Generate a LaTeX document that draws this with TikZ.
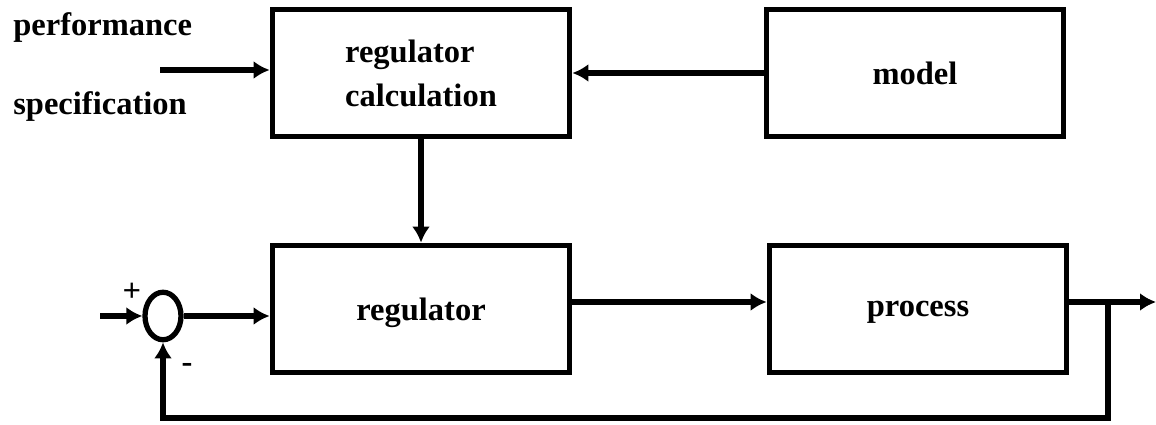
\documentclass[tikz,border=0pt]{standalone}
\usepackage{fontspec}
\setmainfont{Liberation Serif}
\usetikzlibrary{arrows.meta,calc,positioning,shapes.geometric}

\tikzset{
	blockbox/.style={draw,line width=3pt,minimum width=5.95cm,minimum height=2.55cm,font=\fontsize{18.5}{25}\selectfont\bfseries},
	sig/.style={-{Latex[length=3.2mm,width=3.6mm]},line width=3pt},
	lbl/.style={font=\fontsize{18.5}{21}\selectfont\bfseries,inner sep=0pt}
}

\begin{document}
\begin{tikzpicture}[x=0.02cm,y=-0.02cm]
		\useasboundingbox (0,0) rectangle (1156,425);
		\node[blockbox,align=left] (calc) at (421,73) {regulator\\calculation};
		\node[blockbox] (model) at (915,73) {model};
		\node[blockbox,text depth=-0.3cm] (reg) at (421,309) {regulator};
		\node[blockbox,text depth=-0.1cm] (proc) at (918,309) {process};
		\node[draw,ellipse,line width=3pt,minimum width=0.72cm,minimum height=0.95cm,inner sep=0pt] (sum) at (163,316) {};
		\node[lbl,anchor=west] (perf) at (13,28) {performance};
		\node[lbl,anchor=west] (spec) at (13,107) {specification};
		\node[lbl] (plus) at (132,292) {+};
		\node[lbl] (minus) at (187,368) {-};
		\coordinate (in1) at (160,70);
		\coordinate (in2) at (100,316);
		\coordinate (out) at (1156,302);
		\coordinate (tap) at (1108,302);
		\coordinate (fb) at (1108,418);
		\draw[sig] (in1) -- (calc.west |- in1);
		\draw[sig] (model) -- (calc);
		\draw[sig] (calc) -- (reg);
		\draw[sig] (in2) -- (sum);
		\draw[sig] (sum) -- (reg.west |- sum);
		\draw[sig] (reg.east |- tap) -- (proc.west |- tap);
		\draw[sig] (proc.east |- tap) -- (out);
		\draw[sig,line join=miter] (tap) -- (fb) -| (sum.south);
	\end{tikzpicture}
\end{document}
